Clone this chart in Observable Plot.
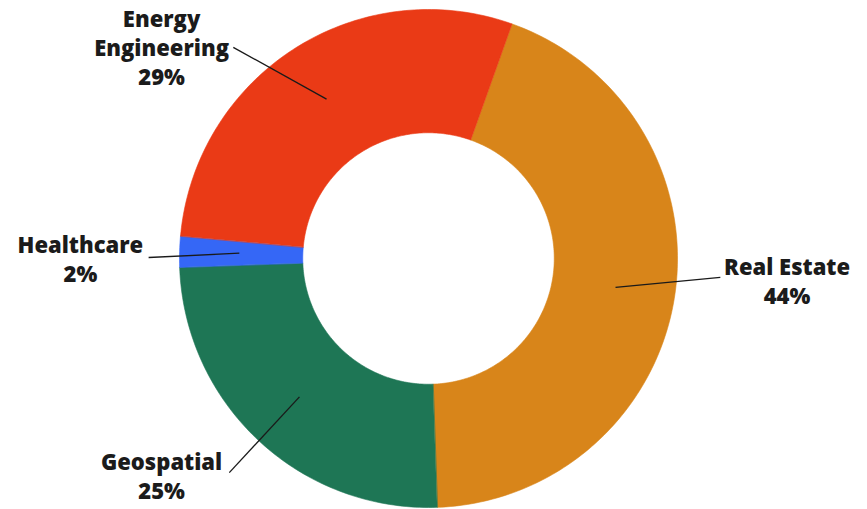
<!DOCTYPE html>
<html>
<head>
<meta charset="utf-8">
<script src="https://cdn.jsdelivr.net/npm/d3@7"></script>
<script src="https://cdn.jsdelivr.net/npm/@observablehq/plot@0.6"></script>
<style>
  html, body { margin: 0; padding: 0; background: #ffffff; }
  #chart { width: 867px; height: 509px; }
</style>
</head>
<body>
<div id="chart"></div>
<script>
// ---- data ----
const categories = ["Real Estate", "Geospatial", "Healthcare", "Energy Engineering"];
const shares = [44, 25, 2, 29];
const percentLabels = ["44%", "25%", "2%", "29%"];
const textLabels = ["Real Estate", "Geospatial", "Healthcare", "Energy\nEngineering"];
const colors = ["#D8851A", "#1E7655", "#3567F6", "#EA3A16"];

// ---- layout (unit = outer radius) ----
const W = 867, H = 509;
const cx = 428, cy = 258, Rpx = 249;
const innerR = 0.505;
const startDeg = 19.6;
// label anchor and leader-line outer end, in radius units (x right, y up)
const labelLayout = {
  "Real Estate":        {tx: 1.44,  ty: -0.088, lx: 1.172,  ly: -0.076},
  "Geospatial":         {tx: -1.072, ty: -0.872, lx: -0.80,  ly: -0.86},
  "Healthcare":         {tx: -1.398, ty: 0.0,    lx: -1.124, ly: 0.004},
  "Energy Engineering": {tx: -1.072, ty: 0.852,  lx: -0.784, ly: 0.848}
};

const total = d3.sum(shares);
const toRad = d => d * Math.PI / 180;
const pt = (r, deg) => [r * Math.sin(toRad(deg)), r * Math.cos(toRad(deg))];

const polys = [];
const links = [];
const labels = [];
let a = startDeg;
categories.forEach((c, i) => {
  const span = shares[i] / total * 360;
  const a0 = a, a1 = a + span;
  const n = Math.max(4, Math.ceil(span / 1));
  const pts = [];
  for (let k = 0; k <= n; k++) pts.push(pt(1, a0 + (a1 - a0) * k / n));
  for (let k = n; k >= 0; k--) pts.push(pt(innerR, a0 + (a1 - a0) * k / n));
  pts.forEach(([x, y], j) => polys.push({cat: c, x, y, j}));
  const mid = (a0 + a1) / 2;
  const [ix, iy] = pt(0.76, mid);
  const L = labelLayout[c];
  links.push({cat: c, x1: ix, y1: iy, x2: L.lx, y2: L.ly});
  labels.push({cat: c, x: L.tx, y: L.ty, text: textLabels[i] + "\n" + percentLabels[i]});
  a = a1;
});

const chart = Plot.plot({
  width: W,
  height: H,
  margin: 0,
  x: {domain: [-cx / Rpx, (W - cx) / Rpx], axis: null},
  y: {domain: [-(H - cy) / Rpx, cy / Rpx], axis: null},
  color: {domain: categories, range: colors},
  style: {background: "transparent"},
  marks: [
    Plot.line(polys, {x: "x", y: "y", z: "cat", fill: "cat", stroke: "cat", strokeWidth: 0.6, curve: "linear-closed"}),
    Plot.link(links, {x1: "x1", y1: "y1", x2: "x2", y2: "y2", stroke: "#1a1a1a", strokeWidth: 1.3}),
    Plot.text(labels, {x: "x", y: "y", text: "text", fill: "#1b1b1b", fontSize: 22, fontWeight: 800,
      fontFamily: "'Open Sans', sans-serif", lineHeight: 1.32, textAnchor: "middle", lineAnchor: "middle"})
  ]
});
document.getElementById("chart").appendChild(chart);
</script>
</body>
</html>
